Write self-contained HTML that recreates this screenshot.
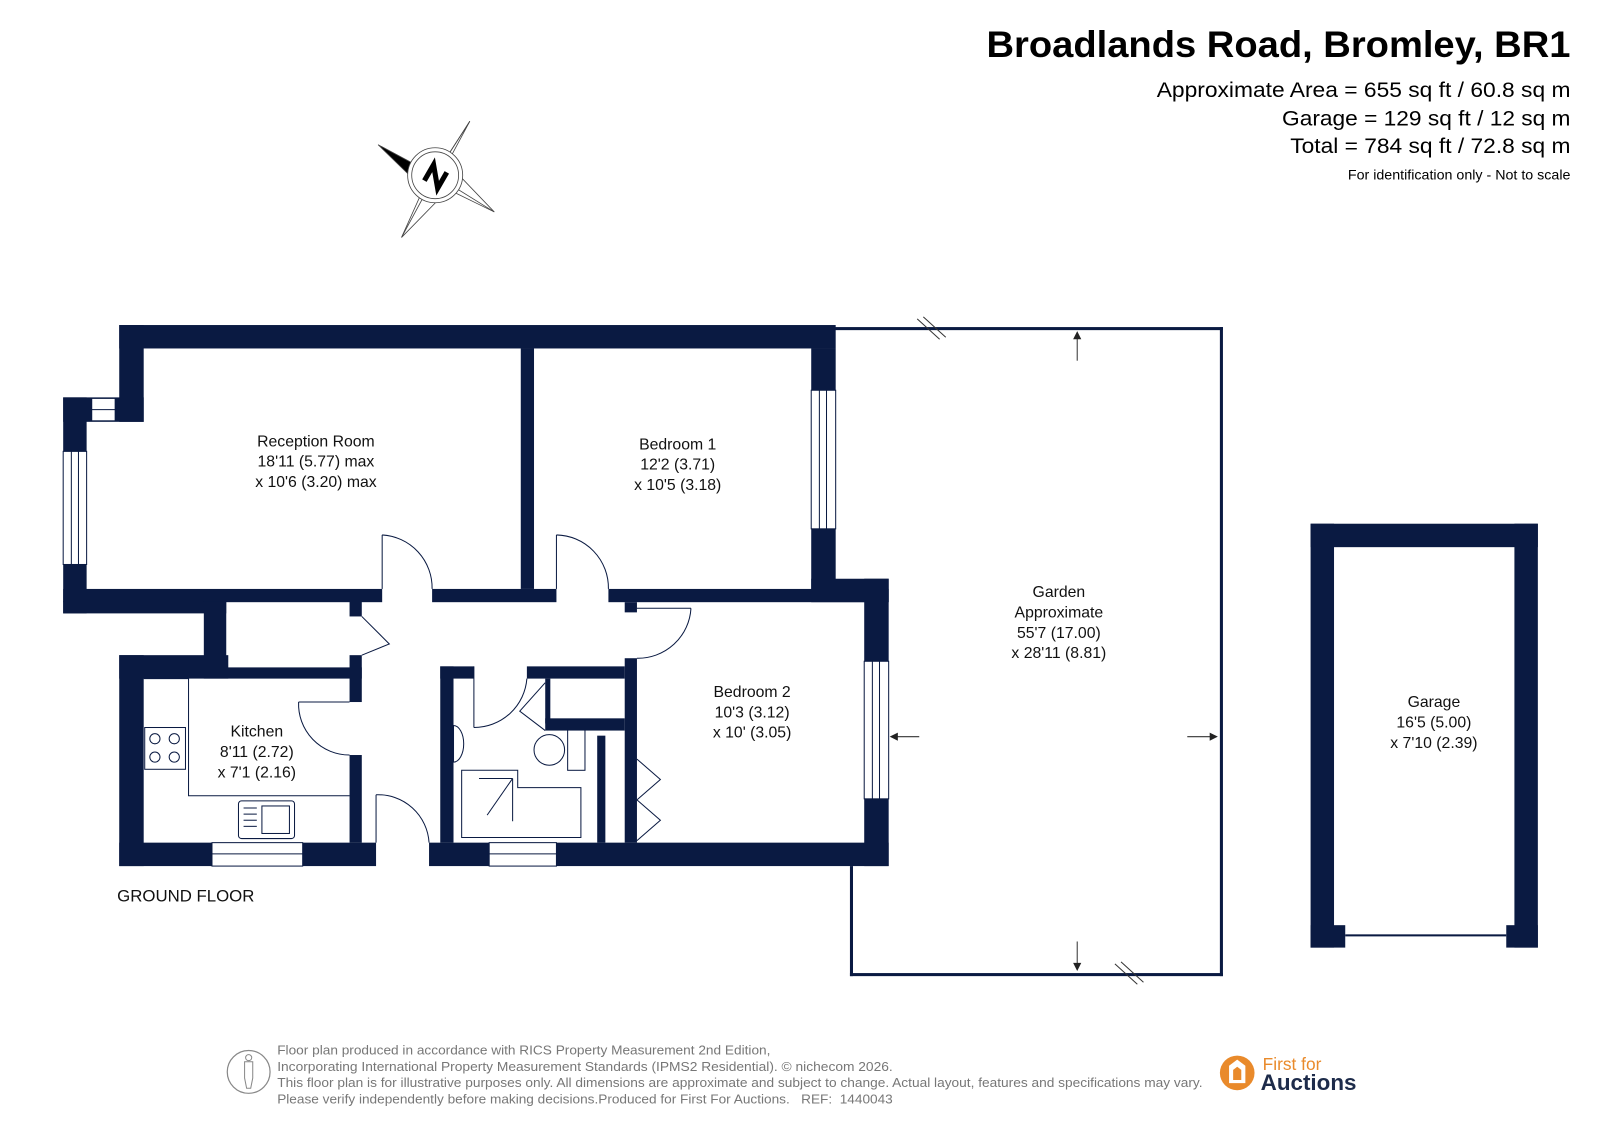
<!DOCTYPE html>
<html><head><meta charset="utf-8"><style>
html,body{margin:0;padding:0;background:#fff;}
svg{display:block;}
text{font-family:"Liberation Sans",sans-serif;}
.r{font-size:15.5px;fill:#111;text-anchor:middle;}
</style></head><body>
<svg width="1599" height="1131" viewBox="0 0 1569 1110" preserveAspectRatio="none" xmlns="http://www.w3.org/2000/svg">
<rect width="1569" height="1110" fill="#fff"/>
<!-- header -->
<text x="968" y="56" textLength="573" lengthAdjust="spacingAndGlyphs" font-size="36" font-weight="bold" fill="#000">Broadlands Road, Bromley, BR1</text>
<text x="1135" y="95" textLength="406" lengthAdjust="spacingAndGlyphs" font-size="21" fill="#000">Approximate Area = 655 sq ft / 60.8 sq m</text>
<text x="1258" y="123" textLength="283" lengthAdjust="spacingAndGlyphs" font-size="21" fill="#000">Garage = 129 sq ft / 12 sq m</text>
<text x="1266" y="150" textLength="275" lengthAdjust="spacingAndGlyphs" font-size="21" fill="#000">Total = 784 sq ft / 72.8 sq m</text>
<text x="1541" y="176" text-anchor="end" font-size="14" fill="#000">For identification only - Not to scale</text>
<!-- compass -->
<g stroke="#444" stroke-width="0.8" fill="#fff">
<polygon points="427,172 461,119 439,160 485,208 440,186 394,233 416,184"/>
<polygon points="371,142 427,172 410,180" fill="#000"/>
<line x1="427" y1="172" x2="461" y2="119"/><line x1="427" y1="172" x2="485" y2="208"/><line x1="427" y1="172" x2="394" y2="233"/>
<circle cx="427" cy="172" r="27"/><circle cx="427" cy="172" r="23"/>
</g>
<path d="M418,166 L436,166 L418,181 L436,181" stroke="#000" stroke-width="5" fill="none" transform="rotate(-60 427 173)"/>
<!-- walls -->
<g fill="#0a1a42">
<rect x="117" y="319" width="703" height="23"/>
<rect x="117" y="319" width="24" height="95"/>
<rect x="62" y="390" width="79" height="24"/>
<rect x="62" y="390" width="23" height="212"/>
<rect x="62" y="578" width="313" height="13"/>
<rect x="62" y="590" width="160" height="12"/>
<rect x="200" y="590" width="22" height="65"/>
<rect x="424" y="578" width="122" height="13"/>
<rect x="511" y="342" width="13" height="236"/>
<rect x="796" y="342" width="24" height="237"/>
<rect x="597" y="578" width="275" height="13"/>
<rect x="796" y="568" width="76" height="23"/>
<rect x="848" y="568" width="24" height="282"/>
<rect x="117" y="827" width="252" height="23"/>
<rect x="421" y="827" width="451" height="23"/>
<rect x="117" y="643" width="24" height="207"/>
<rect x="117" y="643" width="107" height="23"/>
<rect x="200" y="655" width="155" height="11"/>
<rect x="343" y="590" width="12" height="15"/>
<rect x="343" y="643" width="12" height="46"/>
<rect x="343" y="741" width="12" height="86"/>
<rect x="432" y="654" width="13" height="173"/>
<rect x="432" y="654" width="33" height="12"/>
<rect x="517" y="654" width="96" height="12"/>
<rect x="613" y="591" width="12" height="10"/>
<rect x="613" y="646" width="12" height="181"/>
<rect x="535" y="705" width="78" height="12"/>
<rect x="535" y="666" width="5" height="44"/>
<rect x="586" y="722" width="8" height="105"/>
<!-- garage -->
<rect x="1286" y="514" width="223" height="23"/>
<rect x="1286" y="514" width="23" height="416"/>
<rect x="1486" y="514" width="23" height="416"/>
<rect x="1286" y="908" width="34" height="22"/>
<rect x="1478" y="908" width="31" height="22"/>
</g>
<!-- windows -->
<g fill="#fff" stroke="#0a1a42" stroke-width="1">
<rect x="90" y="391" width="23" height="22"/><line x1="90" y1="402" x2="113" y2="402"/>
<rect x="62" y="443" width="23" height="111"/><line x1="70" y1="443" x2="70" y2="554"/><line x1="77" y1="443" x2="77" y2="554"/>
<rect x="796" y="383" width="24" height="136"/><line x1="804" y1="383" x2="804" y2="519"/><line x1="811" y1="383" x2="811" y2="519"/>
<rect x="848" y="649" width="24" height="135"/><line x1="856" y1="649" x2="856" y2="784"/><line x1="863" y1="649" x2="863" y2="784"/>
<rect x="208" y="827" width="89" height="23"/><line x1="208" y1="838" x2="297" y2="838"/>
<rect x="480" y="827" width="66" height="23"/><line x1="480" y1="838" x2="546" y2="838"/>
</g>
<!-- doors -->
<g fill="none" stroke="#0a1a42" stroke-width="1">
<line x1="375" y1="525" x2="375" y2="578"/><path d="M375,525 A52,52 0 0 1 424,578"/>
<line x1="546" y1="525" x2="546" y2="578"/><path d="M546,525 A52,52 0 0 1 597,578"/>
<line x1="625" y1="597" x2="678" y2="597"/><path d="M678,597 A52,52 0 0 1 625,646"/>
<path d="M355,605 L382,632 L355,643"/>
<line x1="293" y1="689" x2="343" y2="689"/><path d="M293,689 A50,50 0 0 0 343,741"/>
<line x1="369" y1="780" x2="369" y2="827"/><path d="M369,780 A50,50 0 0 1 421,827"/>
<line x1="465" y1="654" x2="465" y2="714"/><path d="M465,714 A52,52 0 0 0 517,666"/>
<path d="M535,670 L510,698 L535,717"/>
<path d="M625,745 L648,765 L625,785"/><path d="M625,785 L648,805 L625,825"/>
<!-- kitchen counters -->
<path d="M141,666 L185,666 L185,781 L343,781"/>
<rect x="142" y="714" width="40" height="41"/>
<circle cx="152" cy="725" r="5"/><circle cx="171" cy="725" r="5"/><circle cx="152" cy="743" r="5"/><circle cx="171" cy="743" r="5"/>
<rect x="234" y="786" width="55" height="37" rx="3"/><rect x="257" y="791" width="27" height="27"/>
<line x1="239" y1="793" x2="252" y2="793"/><line x1="239" y1="799" x2="252" y2="799"/><line x1="239" y1="805" x2="252" y2="805"/><line x1="239" y1="811" x2="252" y2="811"/>
<!-- bathroom -->
<path d="M445,712 A10,18 0 0 1 445,748 Z"/>
<ellipse cx="539" cy="736" rx="15" ry="15"/><rect x="557" y="716" width="17" height="40"/>
<path d="M453,756 L508,756 L508,773 L570,773 L570,822 L453,822 Z"/>
<line x1="470" y1="764" x2="503" y2="764"/><line x1="503" y1="764" x2="478" y2="800"/><line x1="503" y1="764" x2="503" y2="806"/>
</g>
<!-- garden outline -->
<g fill="#0a1a42">
<rect x="818" y="321" width="382" height="3"/>
<rect x="1197" y="321" width="3" height="637"/>
<rect x="834" y="955" width="366" height="3"/>
<rect x="834" y="850" width="3" height="108"/>
<rect x="1320" y="917" width="158" height="2"/>
</g>
<g stroke="#333" stroke-width="1" fill="none">
<line x1="900" y1="313" x2="922" y2="333"/><line x1="906" y1="311" x2="928" y2="331"/>
<line x1="1094" y1="946" x2="1116" y2="966"/><line x1="1100" y1="944" x2="1122" y2="964"/>
<line x1="1057" y1="328" x2="1057" y2="354"/><line x1="1057" y1="924" x2="1057" y2="950"/>
<line x1="876" y1="723" x2="902" y2="723"/><line x1="1165" y1="723" x2="1191" y2="723"/>
</g>
<g fill="#222">
<polygon points="1057,325 1053,333 1061,333"/><polygon points="1057,953 1053,945 1061,945"/>
<polygon points="873,723 881,719 881,727"/><polygon points="1195,723 1187,719 1187,727"/>
</g>
<!-- labels -->
<text class="r" x="310" y="438">Reception Room</text>
<text class="r" x="310" y="458">18'11 (5.77) max</text>
<text class="r" x="310" y="478">x 10'6 (3.20) max</text>
<text class="r" x="665" y="441">Bedroom 1</text>
<text class="r" x="665" y="461">12'2 (3.71)</text>
<text class="r" x="665" y="481">x 10'5 (3.18)</text>
<text class="r" x="738" y="684">Bedroom 2</text>
<text class="r" x="738" y="704">10'3 (3.12)</text>
<text class="r" x="738" y="724">x 10' (3.05)</text>
<text class="r" x="252" y="723">Kitchen</text>
<text class="r" x="252" y="743">8'11 (2.72)</text>
<text class="r" x="252" y="763">x 7'1 (2.16)</text>
<text class="r" x="1039" y="586">Garden</text>
<text class="r" x="1039" y="606">Approximate</text>
<text class="r" x="1039" y="626">55'7 (17.00)</text>
<text class="r" x="1039" y="646">x 28'11 (8.81)</text>
<text class="r" x="1407" y="694">Garage</text>
<text class="r" x="1407" y="714">16'5 (5.00)</text>
<text class="r" x="1407" y="734">x 7'10 (2.39)</text>
<text x="115" y="885" font-size="16.5" fill="#111">GROUND FLOOR</text>
<!-- footer -->
<circle cx="244" cy="1052" r="21" fill="none" stroke="#888" stroke-width="1.2"/>
<path d="M240,1042 L248,1042 L248,1058 L246,1068 L242,1068 L240,1058 Z" fill="none" stroke="#888"/>
<circle cx="244" cy="1038" r="3" fill="none" stroke="#888"/>
<g font-size="12.3" fill="#777">
<text x="272" y="1035" textLength="484" lengthAdjust="spacingAndGlyphs">Floor plan produced in accordance with RICS Property Measurement 2nd Edition,</text>
<text x="272" y="1051" textLength="604" lengthAdjust="spacingAndGlyphs">Incorporating International Property Measurement Standards (IPMS2 Residential).   © nichecom 2026.</text>
<text x="272" y="1067" textLength="908" lengthAdjust="spacingAndGlyphs">This floor plan is for illustrative purposes only. All dimensions are approximate and subject to change. Actual layout, features and specifications may vary.</text>
<text x="272" y="1083" textLength="604" lengthAdjust="spacingAndGlyphs" xml:space="preserve">Please verify independently before making decisions.Produced for First For Auctions.   REF:  1440043</text>
</g>
<circle cx="1214" cy="1053" r="17" fill="#e98a2b"/>
<path d="M1206,1046 L1214,1040 L1222,1046 L1222,1063 L1206,1063 Z" fill="#fff"/>
<path d="M1210,1050 L1214,1047 L1218,1050 L1218,1060 L1210,1060 Z" fill="#e98a2b"/>
<text x="1239" y="1050" font-size="17" fill="#e98a2b">First for</text>
<text x="1237" y="1070" font-size="22" font-weight="bold" fill="#1d2b4a">Auctions</text>
</svg>
</body></html>
